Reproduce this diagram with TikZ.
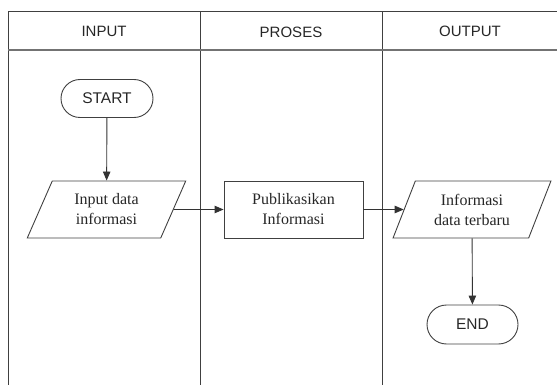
\documentclass[tikz,border=0pt]{standalone}
\usepackage{fontspec}
\setmainfont{Liberation Serif}
\newfontfamily\sansf{Liberation Sans}
\usetikzlibrary{arrows.meta,shapes.geometric,shapes.misc}
\begin{document}
\begin{tikzpicture}[x=1pt,y=-1pt,
  frameline/.style={draw=black!75,line width=1pt},
  headline/.style={draw=black!55,line width=1.6pt},
  hdr/.style={font=\sansf\fontsize{15}{18}\selectfont,text=black!85},
  term/.style={rounded rectangle,draw=black!75,line width=0.9pt,minimum width=92pt,minimum height=38pt,inner sep=0pt,font=\sansf\fontsize{15.5}{18}\selectfont,text=black!85},
  io/.style={trapezium,trapezium stretches=true,trapezium left angle=64.6,trapezium right angle=115.4,draw=black!75,line width=0.9pt,minimum width=159pt,minimum height=57pt,inner sep=0pt,align=center,font=\fontsize{16}{20}\selectfont,text=black!85},
  proc/.style={rectangle,draw=black!75,line width=0.9pt,minimum width=139pt,minimum height=57pt,inner sep=0pt,align=center,font=\fontsize{16}{20}\selectfont,text=black!85},
  conn/.style={draw=black!80,line width=0.9pt,-{Triangle[length=9pt,width=7.5pt]}}]
\useasboundingbox (0,0) rectangle (557,385);
% lanes
\draw[frameline] (557,12) -- (8,12) -- (8,385);
\draw[frameline] (200,12) -- (200,385);
\draw[frameline] (382,12) -- (382,385);
\draw[headline] (8,50) -- (557,50);
\node[hdr] (h1) at (104,31) {INPUT};
\node[hdr] (h2) at (291,32) {PROSES};
\node[hdr] (h3) at (470,31) {OUTPUT};
% nodes
\node[term] (start) at (107,98.5) {START};
\node[io] (in) at (106.5,209.5) {Input data\\informasi};
\node[proc] (pub) at (293.5,209.5) {Publikasikan\\Informasi};
\node[io,minimum width=158pt] (out) at (472,209.5) {Informasi\\data terbaru};
\node[term,minimum width=91pt,minimum height=39pt] (end) at (472.5,324.5) {END};
% connectors
\draw[conn] (start) -- (in);
\draw[conn] (in) -- (pub);
\draw[conn] (pub) -- (out);
\draw[conn] (out) -- (end);
\end{tikzpicture}
\end{document}
